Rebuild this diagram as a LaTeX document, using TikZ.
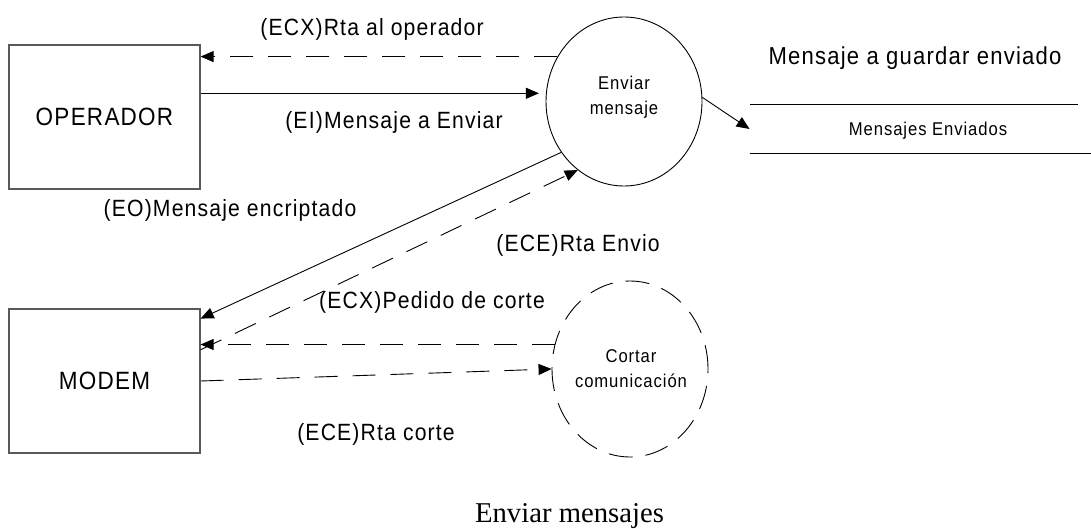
\documentclass[tikz,border=0pt]{standalone}
\usepackage{fontspec}
\setmainfont{Liberation Sans}[FakeStretch=0.9,LetterSpace=5]
\newfontfamily\titlefont{Liberation Serif}
\usepackage{tikz}
\usetikzlibrary{arrows.meta}
\usetikzlibrary{shapes.geometric}
\usetikzlibrary{positioning}
\tikzset{
    entidad/.style = {rectangle, draw=black!65, line width=1.2pt, align=center, minimum width=191, minimum height=144, font=\fontsize{25}{29}\selectfont},
    proceso/.style = {ellipse, draw=black, line width=0.9pt, inner sep=0pt, minimum width=156, minimum height=169},
    procesod/.style = {ellipse, draw=black, line width=0.9pt, inner sep=0pt, minimum width=156, minimum height=176, dash pattern=on 24pt off 13pt},
}

\begin{document}
\begin{tikzpicture}[
	x=1pt,
	y=-1pt,
	line width=0.9pt,
	font=\fontsize{23.5}{28}\selectfont
]
\tikzset{
    etiq/.style = {inner sep=0pt, align=center},
    etiqp/.style = {inner sep=0pt, align=center, font=\fontsize{18.5}{25}\selectfont},
    almacen/.style = {rectangle, inner sep=0pt, minimum width=328, minimum height=48},
    edgen/.style = {-{Triangle[length=13pt,width=11pt]}, black},
    edged/.style = {-{Triangle[length=13pt,width=11pt]}, black, dash pattern=on 23pt off 15pt},
}
\useasboundingbox (0,0) rectangle (1091,529);
\node[entidad] at (104.5,117) (operador) {OPERADOR};
\node[entidad] at (104.5,381) (modem) {MODEM};
\node[proceso] at (624,101.5) (enviar) {};
\node[etiqp] at (624,97.5) (tenviar) {Enviar\\mensaje};
\node[procesod] at (630,369) (cortar) {};
\node[etiqp] at (631,369) (tcortar) {Cortar\\comunicación};
\node[almacen] at (914,129) (guardados) {};
\node[etiqp] at (928,131) (tguardados) {Mensajes Enviados};
%
\draw (guardados.north west) -- (guardados.north east);
\draw (guardados.south west) -- ++(341,0);
%
\node[etiq] at (372,29) (rtaop) {(ECX)Rta al operador};
\node[etiq] at (394,122) (msjenv) {(EI)Mensaje a Enviar};
\node[etiq] at (230,210) (msjenc) {(EO)Mensaje encriptado};
\node[etiq] at (578,245) (rtaenv) {(ECE)Rta Envio};
\node[etiq] at (432,302) (pedido) {(ECX)Pedido de corte};
\node[etiq] at (376,434) (rtacorte) {(ECE)Rta corte};
\node[etiq,font=\fontsize{24.5}{29}\selectfont] at (915,58) (guardar) {Mensaje a guardar enviado};
\node[etiq,anchor=base,font=\titlefont\fontsize{28.7}{33}\selectfont] at (569.5,522) (titulo) {Enviar mensajes};
%
\draw[edged] (enviar.146) -- (operador.east |- enviar.146);
\draw[edgen,shorten >=7pt] (operador.east |- enviar.174) -- (enviar.174);
\draw[edgen] (enviar.3) -- (guardados.west);
%
\draw[edgen] (enviar.219) -- (modem.33);
\draw[edged] (modem.18) -- (enviar.236);
%
\draw[edged] (cortar.162) -- (modem.east |- cortar.162);
\draw[edged] (modem.east) -- (cortar.west);
\end{tikzpicture}
\end{document}
